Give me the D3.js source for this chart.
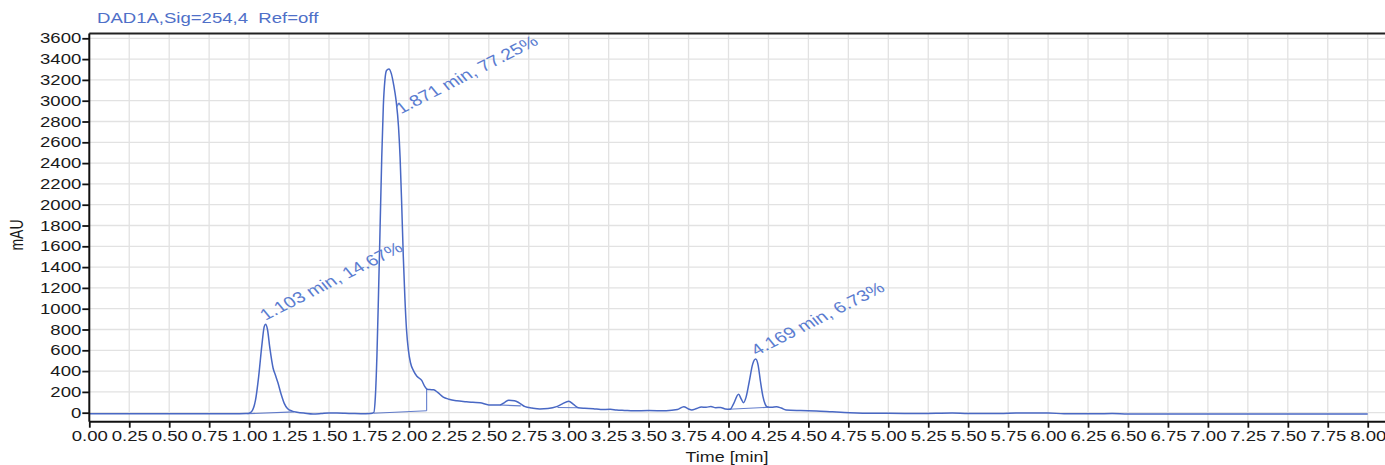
<!DOCTYPE html>
<html><head><meta charset="utf-8">
<script src="https://cdn.jsdelivr.net/npm/d3@7"></script>
<style>
html,body{margin:0;padding:0;background:#fff;}
svg{display:block;font-family:"Liberation Sans",Arial,sans-serif;}
</style></head>
<body><svg id="c" width="1385" height="465"></svg>
<script>
const title = "DAD1A,Sig=254,4\u00a0\u00a0Ref=off";
const xTicks = d3.range(0, 8.001, 0.25);
const yTicks = d3.range(0, 3601, 200);
const time = [0.00,0.50,0.90,0.98,1.00,1.02,1.04,1.06,1.08,1.095,1.103,1.115,1.13,1.15,1.165,1.18,1.20,1.22,1.24,1.27,1.30,1.35,1.40,1.45,1.50,1.55,1.60,1.65,1.70,1.76,1.78,
1.79,1.80,1.81,1.82,1.83,1.84,1.85,1.86,1.875,1.89,1.905,1.92,1.935,1.945,1.955,1.965,1.975,1.985,1.997,2.01,2.03,2.05,2.08,2.10,2.115,2.13,2.155,2.18,2.215,2.25,2.30,2.36,2.40,2.445,2.50,2.57,2.60,2.625,2.66,2.69,2.727,2.77,2.82,2.87,2.924,2.96,3.00,3.03,3.06,3.10,3.154,3.20,3.26,3.30,3.35,3.405,3.50,3.61,3.68,3.72,3.75,3.77,3.80,3.83,3.86,3.89,3.92,3.95,3.98,4.01,4.03,4.063,4.08,4.094,4.11,4.13,4.15,4.17,4.185,4.20,4.215,4.23,4.24,4.27,4.30,4.33,4.36,4.45,4.55,4.65,4.76,4.90,5.00,5.20,5.40,5.50,5.70,5.80,6.00,6.10,6.30,6.40,6.50,7.00,7.50,8.00];
const signal = [-10,-10,-10,-8,-5,20,120,350,650,830,850,800,620,430,360,290,180,90,40,15,5,-5,-12,-8,-2,-3,-5,-8,-10,-8,0,
150,550,1150,1800,2450,2950,3200,3290,3305,3260,3150,3000,2750,2450,2000,1500,1100,800,600,480,400,350,310,250,225,222,220,195,150,130,115,106,100,96,75,74,100,120,115,95,58,45,36,40,58,85,110,80,48,42,39,30,32,25,22,19,20,19,30,58,35,26,40,55,52,60,48,50,36,32,80,177,130,96,150,300,460,516,460,300,160,80,58,52,58,45,26,20,16,8,0,-5,-5,-8,-3,-8,-8,-4,-3,-10,-10,-8,-12,-12,-12,-12];
// integration baselines: [t0, v0, t1, v1]
const baselines = [[0.99,-10,1.28,8],[1.78,-5,2.111,19],[2.111,19,2.111,228],[2.57,74,2.70,66],[2.93,50,3.06,48],[4.00,33,4.25,52]];
const peakLabels = ["1.103 min, 14.67%","1.871 min, 77.25%","4.169 min, 6.73%"];
const labelTime = [1.103, 1.95, 4.175];
const labelValue = [885, 2870, 545];

const svg = d3.select("#c");
const SX = 1.28; // horizontal text stretch
const x = d3.scaleLinear().domain([0, 8]).range([89.3, 1367.7]);
const y = d3.scaleLinear().domain([0, 3600]).range([412.7, 38.3]);
const L = 89.3, R = 1385, T = 33.5, B = 421.7;

// grid
const g = svg.append("g");
g.selectAll(".vg").data(xTicks.slice(1)).enter().append("line")
  .attr("x1", d => x(d)).attr("x2", d => x(d)).attr("y1", T).attr("y2", B)
  .attr("stroke", "#e2e2e2").attr("stroke-width", 1.3);
g.selectAll(".hg").data(yTicks).enter().append("line")
  .attr("x1", L).attr("x2", R).attr("y1", d => y(d)).attr("y2", d => y(d))
  .attr("stroke", "#e2e2e2").attr("stroke-width", 1.3);

// trace
const color = "#4968c4";
svg.append("path").datum(d3.zip(time, signal))
  .attr("fill", "none").attr("stroke", color).attr("stroke-width", 1.5)
  .attr("d", d3.line().x(d => x(d[0])).y(d => y(d[1])).curve(d3.curveMonotoneX));
svg.selectAll(".bl").data(baselines).enter().append("line")
  .attr("x1", d => x(d[0])).attr("y1", d => y(d[1])).attr("x2", d => x(d[2])).attr("y2", d => y(d[3]))
  .attr("stroke", color).attr("stroke-width", 1.1).attr("opacity", 0.85);

// peak labels
svg.selectAll(".pl").data(peakLabels).enter().append("text")
  .attr("transform", (d, i) => `translate(${x(labelTime[i])},${y(labelValue[i])}) scale(${SX},1) rotate(-33)`)
  .attr("font-size", 15.5).attr("fill", "#5a7cd0").text(d => d);

// axes
const xAxis = svg.append("g").attr("transform", `translate(0,${B})`)
  .call(d3.axisBottom(x).tickValues(xTicks).tickFormat(d3.format(".2f")).tickSize(6).tickSizeOuter(0));
xAxis.select(".domain").remove();
xAxis.selectAll("text").attr("font-size", 14.5).attr("fill", "#1a1a1a").attr("dy", "0.71em").attr("y", 9)
  .attr("x", 0).attr("transform", `scale(${SX},1)`);
xAxis.selectAll("line").attr("stroke", "#111").attr("stroke-width", 1.8);

const yAxis = svg.append("g").attr("transform", `translate(${L},0)`)
  .call(d3.axisLeft(y).tickValues(yTicks).tickFormat(d3.format("d")).tickSize(7).tickSizeOuter(0));
yAxis.select(".domain").remove();
yAxis.selectAll("text").attr("font-size", 14.5).attr("fill", "#1a1a1a")
  .attr("x", -8 / SX).attr("transform", `scale(${SX},1)`);
yAxis.selectAll("line").attr("stroke", "#111").attr("stroke-width", 1.8);

// frame
svg.append("line").attr("x1", L).attr("x2", R).attr("y1", B).attr("y2", B).attr("stroke", "#111").attr("stroke-width", 2);
svg.append("line").attr("x1", L).attr("x2", R).attr("y1", T).attr("y2", T).attr("stroke", "#222").attr("stroke-width", 1.8);
svg.append("line").attr("x1", L).attr("x2", L).attr("y1", T).attr("y2", B).attr("stroke", "#111").attr("stroke-width", 2);

// titles
svg.append("text").attr("transform", `translate(97,23) scale(${SX},1)`)
  .attr("font-size", 14.5).attr("fill", "#4f70c8").text(title);
svg.append("text").attr("transform", `translate(23,235) rotate(-90) scale(1,${SX})`)
  .attr("text-anchor", "middle").attr("font-size", 14).attr("fill", "#1a1a1a").text("mAU");
svg.append("text").attr("transform", `translate(727,462) scale(${SX},1)`)
  .attr("text-anchor", "middle").attr("font-size", 14).attr("fill", "#1a1a1a").text("Time [min]");
</script></body></html>
